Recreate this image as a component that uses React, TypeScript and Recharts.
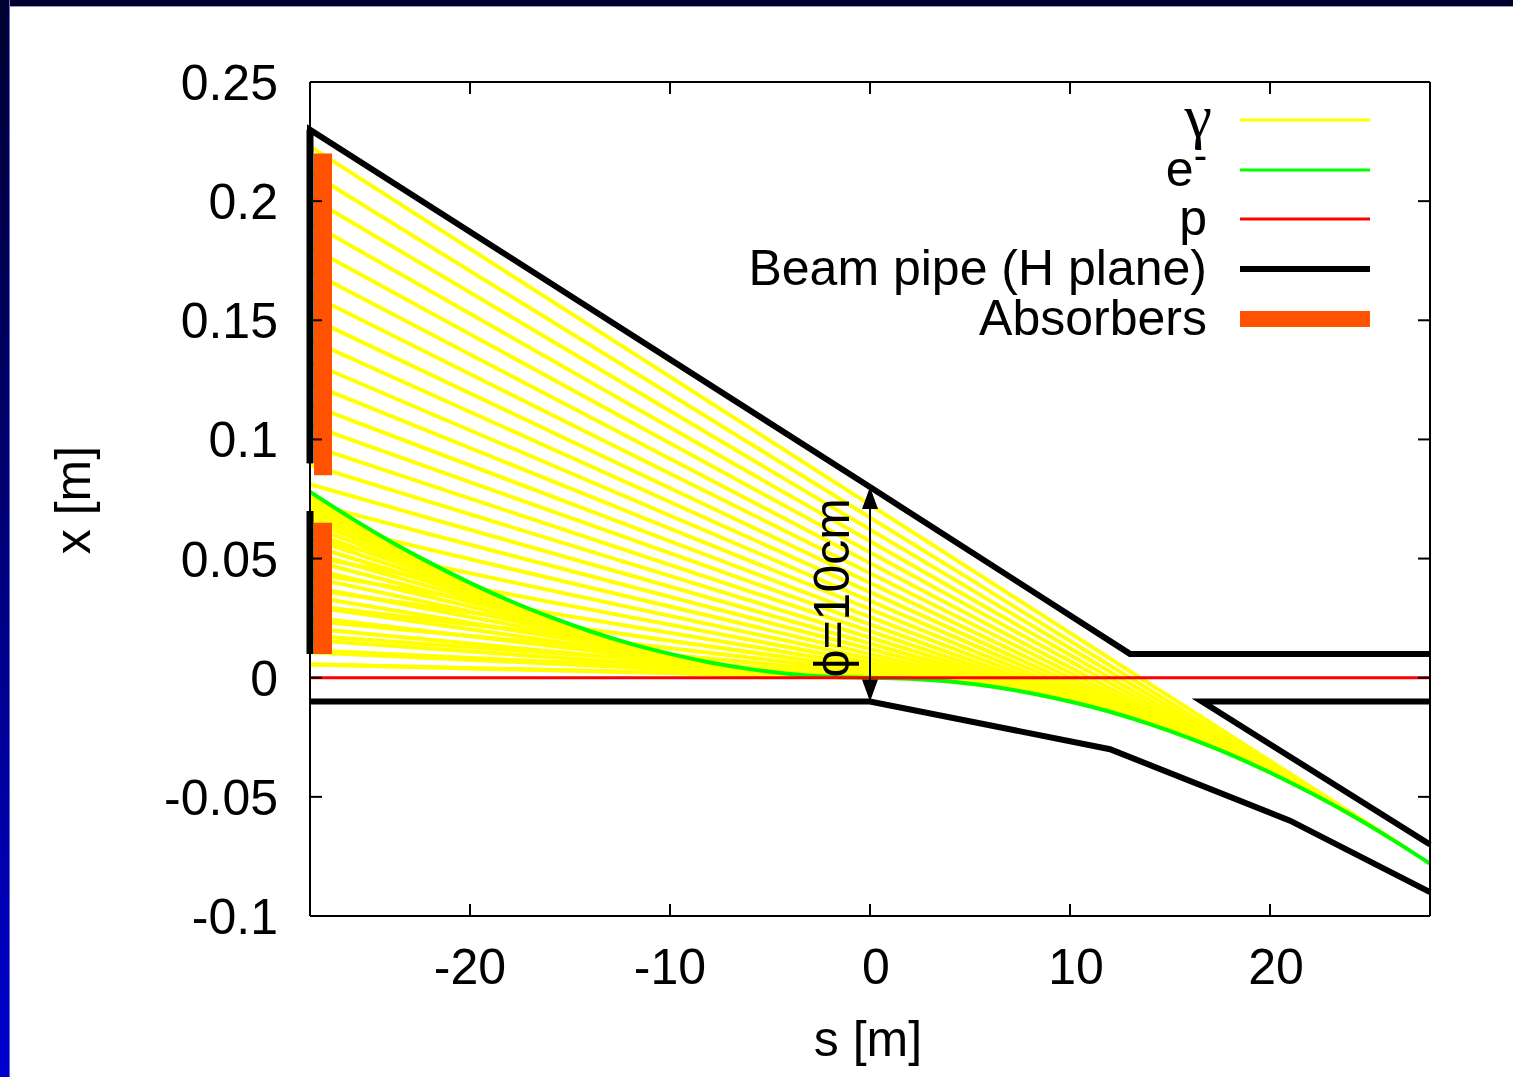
import React from 'react';
import { LineChart, Line, XAxis, YAxis, ReferenceDot } from 'recharts';

const FONT = '"Liberation Sans", Arial, Helvetica, sans-serif';
const FS = 50;

// photon emission points on the e- orbit (s, x) and where each photon lands on the absorber face
const photonS = [
  27, 26, 25, 24, 23, 22, 21, 20, 19, 18, 17, 16, 15, 14, 13, 12, 11, 10, 9, 8, 7, 6, 5, 4, 3, 2, 1,
  -1, -2, -3, -4, -5, -6, -7, -8, -9, -10, -11, -12, -13, -14, -15, -16, -17, -18, -19, -20, -21, -22, -23, -24, -25, -26, -27,
];
const photonX = [
  -0.0725, -0.0673, -0.0622, -0.0573, -0.0526, -0.0482, -0.0439, -0.0398, -0.0359, -0.0322, -0.0288, -0.0255, -0.0224, -0.0195,
  -0.0168, -0.0143, -0.012, -0.01, -0.0081, -0.0064, -0.0049, -0.0036, -0.0025, -0.0016, -0.0009, -0.0004, -0.0001,
  0.0001, 0.0004, 0.0009, 0.0016, 0.0025, 0.0036, 0.0049, 0.0064, 0.0081, 0.01, 0.012, 0.0143, 0.0168, 0.0195,
  0.0224, 0.0255, 0.0288, 0.0322, 0.0359, 0.0398, 0.0439, 0.0482, 0.0526, 0.0573, 0.0622, 0.0673, 0.0725,
];
const photonHitX = [
  0.223, 0.2121, 0.2015, 0.191, 0.1808, 0.1707, 0.1609, 0.1512, 0.1418, 0.1325, 0.1235, 0.1146, 0.106, 0.0975,
  0.0893, 0.0812, 0.0733, 0.0657, 0.0582, 0.0509, 0.0439, 0.037, 0.0303, 0.0239, 0.0176, 0.0115, 0.0057,
  0.0055, 0.0107, 0.0158, 0.0207, 0.0254, 0.0299, 0.0341, 0.0382, 0.0421, 0.0458, 0.0493, 0.0525, 0.0556, 0.0585,
  0.0612, 0.0637, 0.066, 0.0681, 0.0699, 0.0716, 0.0731, 0.0744, 0.0755, 0.0764, 0.0771, 0.0776, 0.0779,
];
const absorberFaceS = -28;

// e- orbit
const electronS = [-28, -26, -24, -22, -20, -18, -16, -14, -12, -10, -8, -6, -4, -2, 0, 2, 4, 6, 8, 10, 12, 14, 16, 18, 20, 22, 24, 26, 28];
const electronX = [
  0.078, 0.0673, 0.0573, 0.0482, 0.0398, 0.0322, 0.0255, 0.0195, 0.0143, 0.01, 0.0064, 0.0036, 0.0016, 0.0004, 0,
  -0.0004, -0.0016, -0.0036, -0.0064, -0.01, -0.0143, -0.0195, -0.0255, -0.0322, -0.0398, -0.0482, -0.0573, -0.0673, -0.078,
];

const protonS = [-28, 28];
const protonX = [0, 0];

// beam pipe walls
const pipeTopS = [-28, -28, 0, 13, 28];
const pipeTopX = [0.09, 0.23, 0.08, 0.01, 0.01];
const pipeFrontS = [-28, -28];
const pipeFrontX = [0.09, 0.23];
const pipeBackS = [-28, -28];
const pipeBackX = [0.07, 0.01];
const pipeBottomS = [-28, 0, 12, 21, 28];
const pipeBottomX = [-0.01, -0.01, -0.03, -0.06, -0.09];
const septumS = [28, 16.6, 28];
const septumX = [-0.01, -0.01, -0.07];

// absorbers
const absorberS = [-27.35, -27.35];
const absorberUpperX = [0.22, 0.085];
const absorberLowerX = [0.065, 0.01];

// aperture arrow + label
const arrowS = [0, 0];
const arrowX = [0.08, -0.01];
const labelS = -1.05;
const labelX = 0.0377;

// plot range (also feeds the mirrored tick axes)
const rangeS = [-28, 28];
const rangeX = [-0.1, 0.25];
const xTicks = [-20, -10, 0, 10, 20];
const yTicks = [-0.1, -0.05, 0, 0.05, 0.1, 0.15, 0.2, 0.25];

const legendRows = [
  { key: 'g', color: '#ffff00', width: 3 },
  { key: 'e', color: '#00ff00', width: 3 },
  { key: 'p', color: '#ff0000', width: 3 },
  { key: 'b', color: '#000000', width: 6 },
  { key: 'a', color: '#ff5200', width: 16 },
];

const pts = (s: number[], x: number[]) => s.map((v, i) => ({ s: v, x: x[i] }));

const XTick = (props: any) => {
  const { x, y, payload } = props;
  const v = payload.value;
  return (
    <text x={x + (v >= 0 ? 6 : 0)} y={y + 36} textAnchor="middle" fontSize={FS} fontFamily={FONT} fill="#000">
      {v}
    </text>
  );
};

const YTick = (props: any) => {
  const { x, y, payload } = props;
  return (
    <text x={x} y={y + 18} textAnchor="end" fontSize={FS} fontFamily={FONT} fill="#000">
      {payload.value}
    </text>
  );
};

const NoLabel = () => <g />;

const lineProps = { dataKey: 'x', dot: false, activeDot: false, isAnimationActive: false, type: 'linear' as const };
const frame = { stroke: '#000', strokeWidth: 2 };

export default function App() {
  const rowY = [120, 170, 219, 269, 319];
  return (
    <div style={{ position: 'absolute', left: 0, top: 0, width: 1513, height: 1077, background: '#fff', overflow: 'hidden' }}>
      <div style={{ position: 'absolute', left: 0, top: 0, width: 1513, height: 6, background: '#000030', borderBottom: '1px solid #9a9ab8' }} />
      <div
        style={{
          position: 'absolute', left: 0, top: 0, width: 9, height: 1077,
          background: 'linear-gradient(#000030, #000070 45%, #0000d0)', borderRight: '1px solid #6868d8',
        }}
      />
      <div style={{ position: 'absolute', left: 0, top: 0 }}>
        <LineChart width={1513} height={1077} margin={{ top: 82, right: 83, left: 0, bottom: 0 }}>
          <XAxis dataKey="s" type="number" domain={rangeS} ticks={xTicks} interval={0} height={161}
            tickSize={0} tickMargin={32} tickLine={false} axisLine={frame} tick={<XTick />} />
          <XAxis xAxisId="bt" dataKey="s" type="number" domain={rangeS} ticks={xTicks} interval={0} mirror
            orientation="bottom" height={1} tick={<NoLabel />} tickSize={12} tickLine={frame} axisLine={false} />
          <XAxis xAxisId="tp" dataKey="s" type="number" domain={rangeS} ticks={xTicks} interval={0} mirror
            orientation="top" height={1} tick={<NoLabel />} tickSize={12} tickLine={frame} axisLine={frame} />
          <YAxis type="number" domain={rangeX} ticks={yTicks} interval={0} width={310}
            tickSize={0} tickMargin={32} tickLine={false} axisLine={frame} tick={<YTick />} />
          <YAxis yAxisId="lt" type="number" domain={rangeX} ticks={yTicks} interval={0} mirror
            orientation="left" width={1} tick={<NoLabel />} tickSize={12} tickLine={frame} axisLine={false} />
          <YAxis yAxisId="rt" type="number" domain={rangeX} ticks={yTicks} interval={0} mirror
            orientation="right" width={1} tick={<NoLabel />} tickSize={12} tickLine={frame} axisLine={frame} />

          {/* invisible carriers so the mirrored tick axes get a scale */}
          <Line name="rangeA" {...lineProps} xAxisId="bt" yAxisId="lt" data={pts(rangeS, rangeX)} stroke="none" />
          <Line name="rangeB" {...lineProps} xAxisId="tp" yAxisId="rt" data={pts(rangeS, rangeX)} stroke="none" />

          {photonS.map((s0, i) => (
            <Line key={'ph' + i} name={'ph' + i} {...lineProps}
              data={[{ s: s0, x: photonX[i] }, { s: absorberFaceS, x: photonHitX[i] }]}
              stroke="#ffff00" strokeWidth={4} />
          ))}
          <Line name="e" {...lineProps} type="monotone" data={pts(electronS, electronX)} stroke="#00ff00" strokeWidth={4} />
          <Line name="p" {...lineProps} data={pts(protonS, protonX)} stroke="#ff0000" strokeWidth={3} />
          <Line name="absU" {...lineProps} data={pts(absorberS, absorberUpperX)} stroke="#ff5200" strokeWidth={18} />
          <Line name="absL" {...lineProps} data={pts(absorberS, absorberLowerX)} stroke="#ff5200" strokeWidth={18} />
          <Line name="pipeTop" {...lineProps} data={pts(pipeTopS, pipeTopX)} stroke="#000" strokeWidth={6} />
          <Line name="pipeFront" {...lineProps} data={pts(pipeFrontS, pipeFrontX)} stroke="#000" strokeWidth={7} />
          <Line name="pipeBack" {...lineProps} data={pts(pipeBackS, pipeBackX)} stroke="#000" strokeWidth={7} />
          <Line name="pipeBottom" {...lineProps} data={pts(pipeBottomS, pipeBottomX)} stroke="#000" strokeWidth={6} />
          <Line name="septum" {...lineProps} data={pts(septumS, septumX)} stroke="#000" strokeWidth={6} />
          <Line name="arrow" {...lineProps} data={pts(arrowS, arrowX)} stroke="#000" strokeWidth={2} />

          <ReferenceDot x={arrowS[0]} y={arrowX[0]} r={0} ifOverflow="visible"
            shape={(p: any) => <polygon points={`${p.cx},${p.cy} ${p.cx - 8},${p.cy + 22} ${p.cx + 8},${p.cy + 22}`} fill="#000" />} />
          <ReferenceDot x={arrowS[1]} y={arrowX[1]} r={0} ifOverflow="visible"
            shape={(p: any) => <polygon points={`${p.cx},${p.cy} ${p.cx - 8},${p.cy - 22} ${p.cx + 8},${p.cy - 22}`} fill="#000" />} />
          <ReferenceDot x={labelS} y={labelX} r={0} ifOverflow="visible"
            shape={(p: any) => (
              <text x={p.cx} y={p.cy} transform={`rotate(-90 ${p.cx} ${p.cy})`} textAnchor="middle"
                fontSize={FS} fontFamily={FONT} fill="#000">
                ϕ=10cm
              </text>
            )} />
        </LineChart>
      </div>
      <svg width={1513} height={1077} style={{ position: 'absolute', left: 0, top: 0, pointerEvents: 'none' }}
        fontFamily={FONT} fontSize={FS} fill="#000">
        <text x={1212} y={rowY[0] + 17} textAnchor="end" fontSize={62} fontFamily='"Liberation Serif", "DejaVu Serif", serif'>γ</text>
        <text x={1207} y={rowY[1] + 16} textAnchor="end">
          e<tspan dy={-17} fontSize={40}>-</tspan>
        </text>
        <text x={1207} y={rowY[2] + 16} textAnchor="end">p</text>
        <text x={1207} y={rowY[3] + 16} textAnchor="end">Beam pipe (H plane)</text>
        <text x={1207} y={rowY[4] + 16} textAnchor="end">Absorbers</text>
        {legendRows.map((r, i) => (
          <line key={r.key} x1={1240} x2={1370} y1={rowY[i]} y2={rowY[i]} stroke={r.color} strokeWidth={r.width} />
        ))}
        <text x={90} y={500} transform="rotate(-90 90 500)" textAnchor="middle">x [m]</text>
        <text x={868} y={1056} textAnchor="middle">s [m]</text>
      </svg>
    </div>
  );
}
